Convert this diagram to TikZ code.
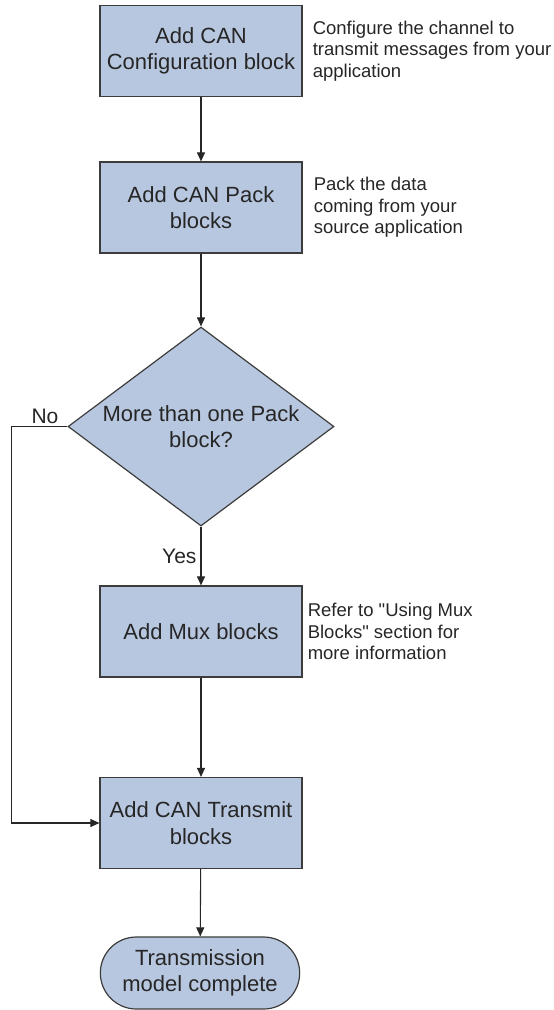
\documentclass[tikz,border=0pt]{standalone}
\usepackage{fontspec}
\setmainfont{Liberation Sans}
\usetikzlibrary{shapes.geometric,shapes.misc,arrows.meta,positioning}
\definecolor{boxblue}{RGB}{184,199,224}
\definecolor{edgegray}{RGB}{60,60,60}
\begin{document}
\begin{tikzpicture}[x=1pt,y=-1pt,
    block/.style={draw=edgegray,fill=boxblue,line width=1.2pt,minimum width=202pt,minimum height=91pt,
      align=center,text=black!85,font=\fontsize{22}{26.5}\selectfont},
    decision/.style={diamond,draw=edgegray,fill=boxblue,line width=1.2pt,aspect=1.34,inner sep=0pt,
      minimum width=266pt,minimum height=199pt,align=center,text=black!85,font=\fontsize{22}{26.5}\selectfont},
    terminal/.style={rounded rectangle,draw=edgegray,fill=boxblue,line width=1.2pt,minimum width=206pt,
      minimum height=72pt,align=center,text=black!85,font=\fontsize{22}{26.5}\selectfont},
    note/.style={inner sep=0pt,align=left,text=black!85,font=\fontsize{18.5}{21.5}\selectfont},
    tag/.style={text=black!85,font=\fontsize{21}{24}\selectfont},
    flow/.style={draw=black!85,line width=1.1pt,-{Triangle[length=9pt,width=8pt]}}]
  \useasboundingbox (0,0) rectangle (554,1010);
  \node [block] (config) at (201,51) {Add CAN\\Configuration block};
  \node [block] (pack) at (201,207.5) {Add CAN Pack\\blocks};
  \node [decision] (multi) at (201,426.5) {More than one Pack\\block?};
  \node [block] (mux) at (201,631.5) {Add Mux blocks};
  \node [block] (transmit) at (201,823) {Add CAN Transmit\\blocks};
  \node [terminal] (done) at (200,973) {Transmission\\model complete};
  % side notes
  \node [note, right=10pt of config] {Configure the channel to\\transmit messages from your\\application};
  \node [note, right=11pt of pack] {Pack the data\\coming from your\\source application};
  \node [note, right=5pt of mux] {Refer to \textquotedbl Using Mux\\Blocks\textquotedbl{} section for\\more information};
  % connectors
  \draw [flow] (config) -- (pack);
  \draw [flow] (pack) -- (multi);
  \draw [flow] (multi) -- node [tag, left, inner sep=4pt] {Yes} (mux);
  \draw [flow] (mux) -- (transmit);
  \draw [flow] (multi.west) -- node [tag, above, inner sep=2pt, pos=.4] {No} ++(-56,0) |- (transmit.west);
  \draw [flow] (transmit) -- (done);
\end{tikzpicture}
\end{document}
